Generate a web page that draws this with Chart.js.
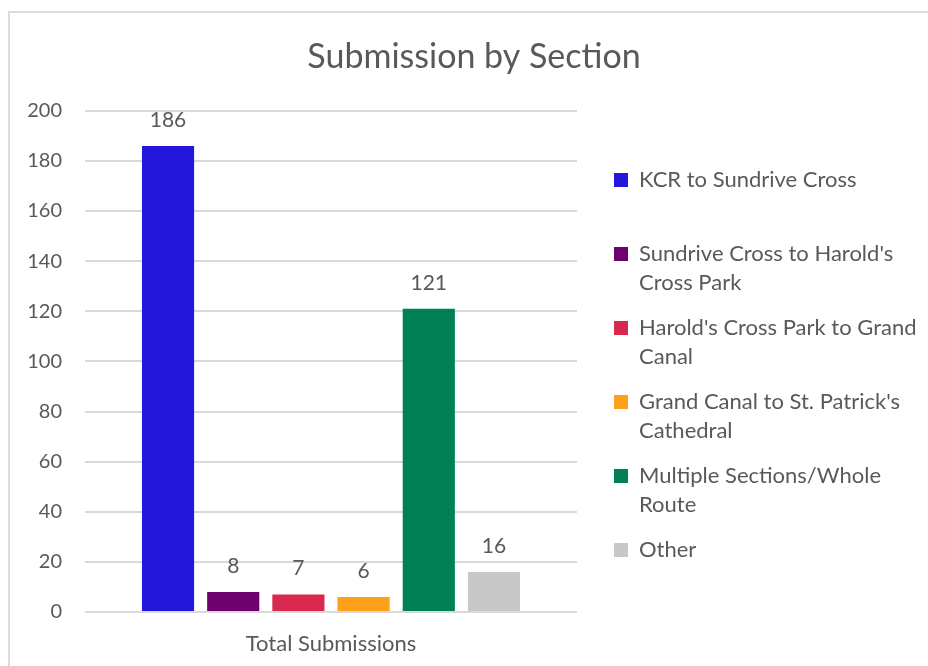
<!DOCTYPE html>
<html>
<head>
<meta charset="utf-8">
<script src="https://cdn.jsdelivr.net/npm/chart.js@4/dist/chart.umd.min.js"></script>
<style>
  html, body { margin: 0; padding: 0; background: #fff; overflow: hidden; }
  .frame { position: absolute; left: 8px; top: 11px; width: 940px; height: 680px; border: 2px solid #dcdcdc; pointer-events: none; }
  .wrap { position: absolute; left: 0; top: 0; width: 928px; height: 666px; }
</style>
</head>
<body>
<div class="wrap"><canvas id="chart"></canvas></div>
<div class="frame"></div>
<script>
// data
const categories = ['Total Submissions']
const sections = [
    'KCR to Sundrive Cross',
    "Sundrive Cross to Harold's Cross Park",
    "Harold's Cross Park to Grand Canal",
    "Grand Canal to St. Patrick's Cathedral",
    'Multiple Sections/Whole Route',
    'Other'
]
// how the legend wraps each name
const legendLines = [
    ['KCR to Sundrive Cross', ''],
    ["Sundrive Cross to Harold's", 'Cross Park'],
    ["Harold's Cross Park to Grand", 'Canal'],
    ["Grand Canal to St. Patrick's", 'Cathedral'],
    ['Multiple Sections/Whole', 'Route'],
    ['Other']
]
const submissions = [186, 8, 7, 6, 121, 16]
const colours = ['#2317db', '#6e006e', '#d9294f', '#ffa01a', '#017f55', '#c8c8c8']
const yTicks = [0, 20, 40, 60, 80, 100, 120, 140, 160, 180, 200]

const textGrey = '#595959'
const fontName = 'Lato, "Open Sans", sans-serif'

// numbers on top of the bars
const barValues = {
    id: 'barValues',
    afterDatasetsDraw(chart) {
        const c = chart.ctx
        c.save()
        c.font = '21px ' + fontName
        c.fillStyle = textGrey
        c.textAlign = 'center'
        c.textBaseline = 'middle'
        chart.data.datasets.forEach((ds, i) => {
            chart.getDatasetMeta(i).data.forEach((bar, j) => {
                c.fillText(ds.data[j], bar.x, bar.y - 26)
            })
        })
        c.restore()
    }
}

const ctx = document.getElementById('chart').getContext('2d')

new Chart(ctx, {
    type: 'bar',
    data: {
        labels: categories,
        datasets: sections.map((name, i) => ({
            label: name,
            data: [submissions[i]],
            backgroundColor: colours[i],
            categoryPercentage: 0.795,
            barPercentage: 0.8
        }))
    },
    options: {
        responsive: true,
        maintainAspectRatio: false,
        animation: false,
        layout: { padding: { left: 27, right: 7, top: 37, bottom: 11 } },
        plugins: {
            title: {
                display: true,
                text: 'Submission by Section',
                color: textGrey,
                font: { family: fontName, size: 34, weight: 'normal', lineHeight: 1.2 },
                padding: { top: 0, bottom: 33 }
            },
            legend: {
                position: 'right',
                align: 'start',
                maxWidth: 323,
                title: {
                    display: true,
                    text: '',
                    font: { size: 1, lineHeight: 1 },
                    padding: { top: 115, bottom: 0 }
                },
                labels: {
                    color: textGrey,
                    font: { family: fontName, size: 22, lineHeight: '29px' },
                    boxWidth: 14,
                    boxHeight: 14,
                    padding: 16,
                    generateLabels: (chart) => chart.data.datasets.map((ds, i) => ({
                        text: legendLines[i],
                        fillStyle: ds.backgroundColor,
                        strokeStyle: ds.backgroundColor,
                        lineWidth: 0,
                        fontColor: textGrey,
                        datasetIndex: i
                    }))
                }
            },
            tooltip: { enabled: false }
        },
        scales: {
            x: {
                grid: { display: false },
                border: { display: false },
                ticks: { color: textGrey, font: { family: fontName, size: 22 }, padding: 11 },
                afterFit: (scale) => { scale.height = 43 }
            },
            y: {
                min: 0,
                max: 200,
                afterBuildTicks: (scale) => { scale.ticks = yTicks.map(v => ({ value: v })) },
                grid: { color: '#d9d9d9', lineWidth: 2, drawTicks: false },
                border: { display: false },
                ticks: { color: textGrey, font: { family: fontName, size: 20 }, padding: 23 },
                afterFit: (scale) => { scale.width = 58 }
            },
            gap: {
                position: 'right',
                display: true,
                grid: { display: false },
                border: { display: false },
                ticks: { display: false },
                afterFit: (scale) => { scale.width = 21 }
            }
        }
    },
    plugins: [barValues]
})
</script>
</body>
</html>
